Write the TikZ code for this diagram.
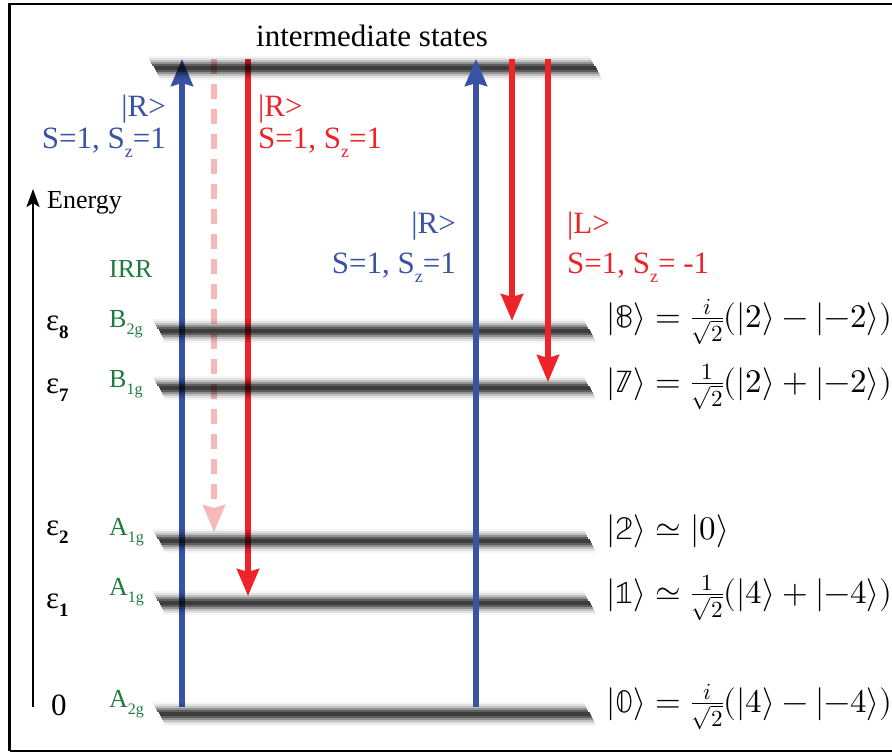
\documentclass[tikz,border=0pt]{standalone}
\usepackage{fontspec}
\usepackage{unicode-math}
\setmainfont{Liberation Serif}
\setmathfont{Latin Modern Math}
\usetikzlibrary{arrows.meta}
\definecolor{myblue}{HTML}{3853A4}
\definecolor{myred}{HTML}{EE2229}
\definecolor{mypink}{HTML}{F7B8BA}
\definecolor{mygreen}{HTML}{1E7A3E}
\newcommand{\levelbar}[3]{%
  \foreach \k in {-11,-9,...,11}{%
    \pgfmathsetmacro\op{0.78*exp(-(\k/6.5)^2)}%
    \draw[line width=2.2pt, draw=black, draw opacity=\op]
      ({#2+0.55*(\k+11)},{#1+\k}) -- ({#3+0.55*(\k+11)},{#1+\k});
  }}
\newcommand{\labfont}{\fontsize{31}{36}\selectfont}
\newcommand{\subz}{\raisebox{-9pt}{\fontsize{18}{18}\selectfont z}}
\newcommand{\grsub}[1]{\raisebox{-7pt}{\fontsize{16}{16}\selectfont #1}}
\newcommand{\epsub}[1]{\raisebox{-8pt}{\fontsize{19}{19}\selectfont\bfseries #1}}
\begin{document}
\begin{tikzpicture}[x=1pt,y=-1pt,
  lab/.style={inner sep=0pt, font=\labfont},
  glab/.style={inner sep=0pt, text=mygreen, font=\fontsize{26}{30}\selectfont, anchor=base west},
  elab/.style={inner sep=0pt, font=\fontsize{31}{34}\selectfont, anchor=base west},
  eq/.style={inner sep=0pt, anchor=base west, font=\fontsize{33}{38}\selectfont},
  arr/.style={line width=5.2pt, -{Stealth[length=27pt,width=22pt,inset=3pt]}},
  framel/.style={line width=2.8pt, black}
]
\useasboundingbox (0,0) rectangle (892,753);
% frame
\coordinate (f1) at (9.5,751);
\coordinate (f2) at (9.5,4);
\coordinate (f3) at (892,4);
\coordinate (f4) at (892,751);
\draw[framel] (f1) -- (f2) -- (f3);
\draw[framel] (f1) -- (f4);

% coordinates for arrows
\coordinate (b1s) at (182,707); \coordinate (b1e) at (182,59);
\coordinate (p1s) at (214,59);  \coordinate (p1e) at (214,532);
\coordinate (r1s) at (248,59);  \coordinate (r1e) at (248,596);
\coordinate (b2s) at (476,707); \coordinate (b2e) at (476,59);
\coordinate (r2s) at (512,59);  \coordinate (r2e) at (512,321);
\coordinate (r3s) at (548,59);  \coordinate (r3e) at (548,382);
\coordinate (es) at (33,707);   \coordinate (ee) at (33,189);

% left arrows (under the levels)
\draw[arr, myblue] (b1s) -- (b1e);
\draw[arr, mypink, dash pattern=on 15pt off 10pt] (p1s) -- (p1e);
\draw[arr, myred] (r1s) -- (r1e);

% levels
\levelbar{68}{148}{590}
\levelbar{331}{153}{584}
\levelbar{388}{153}{584}
\levelbar{541}{153}{584}
\levelbar{603}{153}{584}
\levelbar{714}{153}{584}

% right arrows (over the levels)
\draw[arr, myblue] (b2s) -- (b2e);
\draw[arr, myred] (r2s) -- (r2e);
\draw[arr, myred] (r3s) -- (r3e);

% energy axis
\draw[line width=2.4pt, -{Stealth[length=18pt,width=13pt,inset=4pt]}] (es) -- (ee);
\node[inner sep=0pt, font=\fontsize{26}{30}\selectfont, anchor=base west] (energy) at (47,208) {Energy};

% title
\node[lab, anchor=base] (title) at (372,46) {intermediate states};

% polarization labels
\node[lab, anchor=base east, text=myblue] (bR1) at (166,116) {|R>};
\node[lab, anchor=base east, text=myblue] (bS1) at (166,148) {S=1, S\subz=1};
\node[lab, anchor=base west, text=myred] (rR1) at (258,116) {|R>};
\node[lab, anchor=base west, text=myred] (rS1) at (258,148) {S=1, S\subz=1};
\node[lab, anchor=base east, text=myblue] (bR2) at (456,233) {|R>};
\node[lab, anchor=base east, text=myblue] (bS2) at (456,273) {S=1, S\subz=1};
\node[lab, anchor=base west, text=myred] (rL2) at (567,233) {|L>};
\node[lab, anchor=base west, text=myred] (rS2) at (567,273) {S=1, S\subz= -1};

% IRR labels
\node[glab] (irr) at (109,277) {IRR};
\node[glab] (g8) at (109,327) {B\grsub{2g}};
\node[glab] (g7) at (109,387) {B\grsub{1g}};
\node[glab] (g2) at (109,535) {A\grsub{1g}};
\node[glab] (g1) at (109,595) {A\grsub{1g}};
\node[glab] (g0) at (109,707) {A\grsub{2g}};

% energies
\node[elab] (e8) at (46,330) {ε\epsub{8}};
\node[elab] (e7) at (46,393) {ε\epsub{7}};
\node[elab] (e2) at (46,535) {ε\epsub{2}};
\node[elab] (e1) at (46,608) {ε\epsub{1}};
\node[elab] (e0) at (51,715) {0};

% states
\node[eq] (s8) at (606,327) {$|\symbb{8}\rangle = \frac{i}{\sqrt{2}}(|2\rangle - |{-2}\rangle)$};
\node[eq] (s7) at (606,392) {$|\symbb{7}\rangle = \frac{1}{\sqrt{2}}(|2\rangle + |{-2}\rangle)$};
\node[eq] (s2) at (606,539) {$|\symbb{2}\rangle \simeq |0\rangle$};
\node[eq] (s1) at (606,603) {$|\symbb{1}\rangle \simeq \frac{1}{\sqrt{2}}(|4\rangle + |{-4}\rangle)$};
\node[eq] (s0) at (606,712) {$|\symbb{0}\rangle = \frac{i}{\sqrt{2}}(|4\rangle - |{-4}\rangle)$};
\end{tikzpicture}
\end{document}
